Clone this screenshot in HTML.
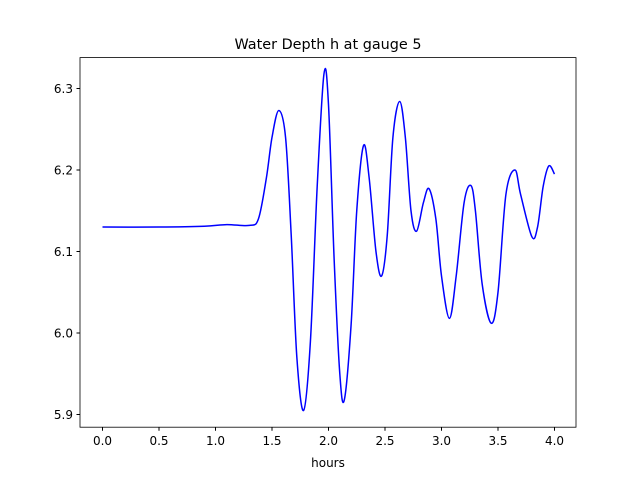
<!DOCTYPE html>
<html><head><meta charset="utf-8"><style>
body{margin:0;background:#fff}
svg{display:block;font-family:"DejaVu Sans","Liberation Sans",sans-serif}
</style></head><body>
<svg width="640" height="480" viewBox="0 0 640 480">
<rect width="640" height="480" fill="#fff"/>
<text x="328" y="49" font-size="14.4" text-anchor="middle">Water Depth h at gauge 5</text>
<g id="xt"></g>
<g id="yt"></g>
<path id="line" fill="none" stroke="#0000ff" stroke-width="1.5"/>
<rect x="80" y="57.6" width="496" height="369.6" fill="none" stroke="#000" stroke-width="0.8"/>
<text x="328" y="467" font-size="12" text-anchor="middle">hours</text>
</svg>
<script>
const hours=[0,0.5,0.9,1.1,1.3,1.38,1.45,1.5,1.56,1.62,1.67,1.72,1.78,1.84,1.9,1.96,2.0,2.05,2.1,2.14,2.2,2.25,2.31,2.36,2.42,2.47,2.52,2.57,2.63,2.68,2.73,2.78,2.84,2.89,2.95,3.0,3.07,3.13,3.2,3.26,3.3,3.36,3.44,3.5,3.57,3.65,3.7,3.8,3.85,3.9,3.95,4.0];
const depth=[6.13,6.13,6.131,6.133,6.132,6.14,6.19,6.24,6.273,6.24,6.12,5.97,5.905,5.99,6.18,6.318,6.28,6.09,5.95,5.918,6.01,6.15,6.23,6.19,6.1,6.07,6.12,6.24,6.284,6.24,6.15,6.125,6.16,6.177,6.14,6.07,6.018,6.07,6.16,6.181,6.15,6.06,6.012,6.05,6.17,6.2,6.17,6.118,6.13,6.18,6.205,6.195];
const xTicks=[0,0.5,1,1.5,2,2.5,3,3.5,4];
const xTickLabels=["0.0","0.5","1.0","1.5","2.0","2.5","3.0","3.5","4.0"];
const yTicks=[5.9,6.0,6.1,6.2,6.3];
const yTickLabels=["5.9","6.0","6.1","6.2","6.3"];
const X=v=>102.5+v*113;
const Y=v=>414.5-(v-5.9)*815;
const ns="http://www.w3.org/2000/svg";
const xt=document.getElementById('xt'),yt=document.getElementById('yt');
xTicks.forEach((t,i)=>{
 const l=document.createElementNS(ns,'line');
 l.setAttribute('x1',X(t));l.setAttribute('x2',X(t));l.setAttribute('y1',427.2);l.setAttribute('y2',430.7);l.setAttribute('stroke','#000');
 
 
 xt.appendChild(l);
 const tx=document.createElementNS(ns,'text');
 tx.setAttribute('x',X(t));tx.setAttribute('y',445);tx.setAttribute('font-size','12');tx.setAttribute('text-anchor','middle');
 tx.textContent=xTickLabels[i];
 
 
 xt.appendChild(tx);
});
yTicks.forEach((t,i)=>{
 const l=document.createElementNS(ns,'line');
 l.setAttribute('x1',76.5);l.setAttribute('x2',80);l.setAttribute('y1',Y(t));l.setAttribute('y2',Y(t));l.setAttribute('stroke','#000');
 
 
 yt.appendChild(l);
 const tx=document.createElementNS(ns,'text');
 tx.setAttribute('x',73);tx.setAttribute('y',Y(t)+4.5);tx.setAttribute('font-size','12');tx.setAttribute('text-anchor','end');
 tx.textContent=yTickLabels[i];
 
 
 yt.appendChild(tx);
});
const p=hours.map((h,i)=>[X(h),Y(depth[i])]);
let d='M'+p[0][0]+','+p[0][1];
for(let i=0;i<p.length-1;i++){
 const p0=p[Math.max(0,i-1)],p1=p[i],p2=p[i+1],p3=p[Math.min(p.length-1,i+2)];
 const c1=[p1[0]+(p2[0]-p0[0])/6,p1[1]+(p2[1]-p0[1])/6];
 const c2=[p2[0]-(p3[0]-p1[0])/6,p2[1]-(p3[1]-p1[1])/6];
 d+=` C${c1[0]},${c1[1]} ${c2[0]},${c2[1]} ${p2[0]},${p2[1]}`;
}
document.getElementById('line').setAttribute('d',d);
</script>
</body></html>
